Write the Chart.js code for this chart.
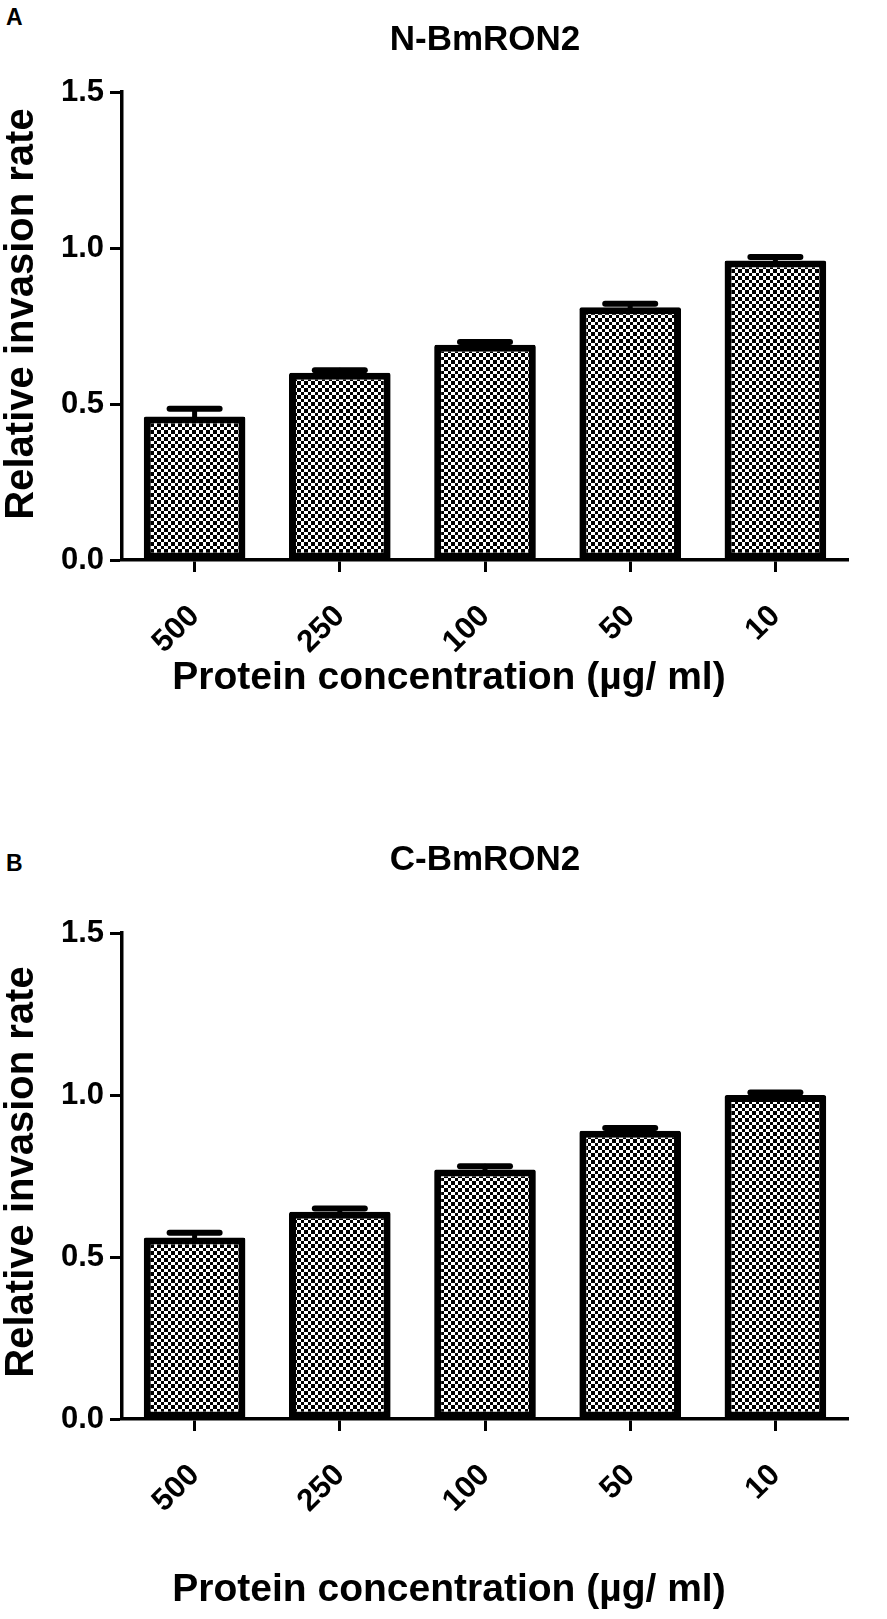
<!DOCTYPE html>
<html>
<head>
<meta charset="utf-8">
<script src="https://cdn.jsdelivr.net/npm/chart.js@4.4.1/dist/chart.umd.min.js"></script>
<style>
body { margin: 0; background: #fff; }
#wrap { position: relative; width: 887px; height: 1619px; font-family: "Liberation Sans", Arial, sans-serif; }
.panel { position: absolute; left: 6px; font-weight: bold; font-size: 23px; color: #000; }
canvas { position: absolute; left: 0; }
</style>
</head>
<body>
<div id="wrap">
  <div class="panel" style="top:4px">A</div>
  <canvas id="chartA" width="887" height="720" style="top:0px"></canvas>
  <div class="panel" style="top:850px">B</div>
  <canvas id="chartB" width="887" height="819" style="top:800px"></canvas>
</div>
<script>
const labels = ['500', '250', '100', '50', '10']
const valuesN = [0.46, 0.60, 0.69, 0.81, 0.96]
const errorsN = [0.025, 0.008, 0.009, 0.011, 0.011]
const valuesC = [0.56, 0.64, 0.77, 0.89, 1.0]
const errorsC = [0.015, 0.01, 0.01, 0.008, 0.008]
const yTicks = [0, 0.5, 1.0, 1.5]

const fontFamily = '"Liberation Sans", Arial, sans-serif'

// checkerboard fill, cells of 3/4 px so the period is about 7 px
const makeChecker = () => {
    const c = document.createElement('canvas')
    c.width = 14
    c.height = 14
    const g = c.getContext('2d')
    const edges = [0, 3, 7, 10, 14]
    g.fillStyle = '#fff'
    g.fillRect(0, 0, 14, 14)
    g.fillStyle = '#000'
    for (let i = 0; i < 4; i++) {
        for (let j = 0; j < 4; j++) {
            if ((i + j) % 2 === 0) {
                g.fillRect(edges[i], edges[j], edges[i + 1] - edges[i], edges[j + 1] - edges[j])
            }
        }
    }
    return g.createPattern(c, 'repeat')
}

const errorBars = {
    id: 'errorBars',
    afterDatasetsDraw(chart) {
        const ds = chart.data.datasets[0]
        const meta = chart.getDatasetMeta(0)
        const y = chart.scales.y
        const ctx = chart.ctx
        ctx.save()
        ctx.strokeStyle = '#000'
        ctx.lineCap = 'round'
        meta.data.forEach((bar, i) => {
            const top = y.getPixelForValue(ds.data[i] + ds.errors[i])
            const base = y.getPixelForValue(ds.data[i])
            ctx.lineWidth = 5
            ctx.beginPath()
            ctx.moveTo(bar.x, base)
            ctx.lineTo(bar.x, top)
            ctx.stroke()
            ctx.lineWidth = 6
            ctx.beginPath()
            ctx.moveTo(bar.x - 25, top)
            ctx.lineTo(bar.x + 25, top)
            ctx.stroke()
        })
        ctx.restore()
    }
}

// axis titles placed where the original figure has them
const axisTitles = {
    id: 'axisTitles',
    afterDraw(chart, args, opts) {
        const ctx = chart.ctx
        ctx.save()
        ctx.fillStyle = '#000'
        ctx.textAlign = 'center'
        ctx.textBaseline = 'middle'
        ctx.font = 'bold 39px ' + fontFamily
        ctx.fillText(opts.xText, opts.xPos[0], opts.xPos[1])
        ctx.translate(opts.yPos[0], opts.yPos[1])
        ctx.rotate(-Math.PI / 2)
        ctx.font = 'bold 40px ' + fontFamily
        ctx.fillText(opts.yText, 0, 0)
        ctx.restore()
    }
}

const font = (size) => ({ family: fontFamily, size: size, weight: 'bold', lineHeight: 1.2 })

const makeChart = (id, title, values, errors, lay) => {
    const ctx = document.getElementById(id)
    return new Chart(ctx, {
        type: 'bar',
        data: {
            labels: labels,
            datasets: [{
                data: values,
                errors: errors,
                backgroundColor: makeChecker(),
                borderColor: '#000',
                borderWidth: 7,
                borderSkipped: false,
                borderRadius: 2,
                barPercentage: 0.70,
                categoryPercentage: 1.0
            }]
        },
        options: {
            responsive: false,
            animation: false,
            layout: { padding: { left: 0, right: 39, top: 0, bottom: lay.padBottom } },
            plugins: {
                legend: { display: false },
                tooltip: { enabled: false },
                title: {
                    display: true,
                    text: title,
                    color: '#000',
                    fullSize: false,
                    font: font(35),
                    padding: { top: lay.titleTop, bottom: lay.titleBottom }
                },
                axisTitles: {
                    xText: 'Protein concentration (µg/ ml)',
                    yText: 'Relative invasion rate',
                    xPos: lay.xTitle,
                    yPos: lay.yTitle
                }
            },
            scales: {
                x: {
                    grid: { offset: false, drawOnChartArea: false, drawTicks: true, tickLength: 12, tickWidth: 3, tickColor: '#000' },
                    border: { display: true, color: '#000', width: 3.5 },
                    ticks: { color: '#000', font: font(31), maxRotation: 45, minRotation: 45, padding: 26 },
                    afterFit: (s) => { s.height = lay.xHeight }
                },
                y: {
                    min: 0,
                    max: 1.5,
                    afterBuildTicks: (s) => { s.ticks = yTicks.map(v => ({ value: v })) },
                    grid: { drawOnChartArea: false, drawTicks: true, tickLength: 12, tickWidth: 3, tickColor: '#000' },
                    border: { display: true, color: '#000', width: 3.5 },
                    ticks: { color: '#000', font: font(31), padding: 6, callback: (v) => v.toFixed(1) },
                    afterFit: (s) => { s.width = 122 }
                }
            }
        },
        plugins: [errorBars, axisTitles]
    })
}

makeChart('chartA', 'N-BmRON2', valuesN, errorsN,
    { titleTop: 19, titleBottom: 31, xHeight: 140, padBottom: 20, xTitle: [449, 678], yTitle: [22, 314] })
makeChart('chartB', 'C-BmRON2', valuesC, errorsC,
    { titleTop: 39, titleBottom: 52, xHeight: 193, padBottom: 7, xTitle: [449, 790], yTitle: [22, 372] })
</script>
</body>
</html>
